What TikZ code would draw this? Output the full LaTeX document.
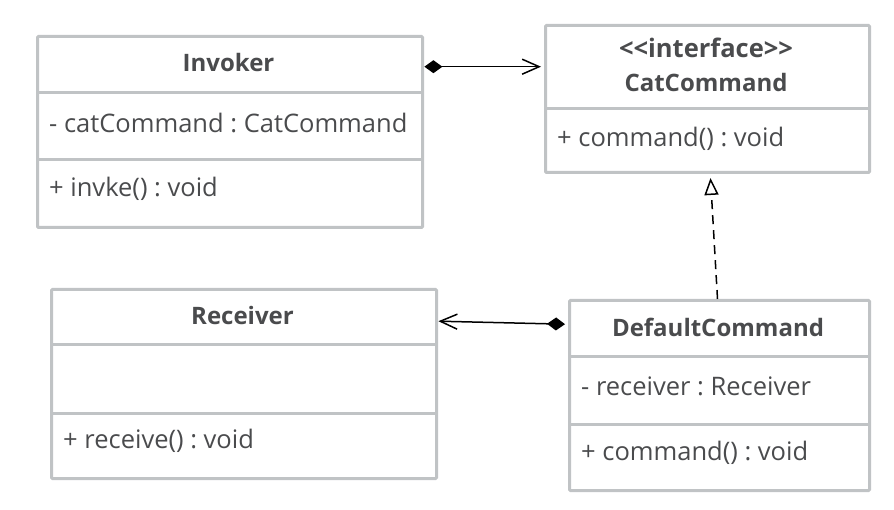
\documentclass[tikz,border=0pt]{standalone}
\usepackage{fontspec}
\setmainfont{Open Sans}
\usetikzlibrary{arrows.meta,calc}
\definecolor{boxline}{HTML}{C0C3C5}
\definecolor{txt}{HTML}{4A4B4D}
\tikzset{
  umlbox/.style={draw=boxline, line width=3pt, rounded corners=1pt, inner sep=0pt, anchor=north west},
  sect/.style={inner sep=0pt, anchor=north west},
  divider/.style={draw=boxline, line width=3pt},
  title/.style={text=txt, font=\fontsize{24}{28}\selectfont\bfseries, inner sep=0pt},
  member/.style={text=txt, font=\fontsize{25.5}{30}\selectfont, inner sep=0pt, anchor=west},
  conn/.style={line width=1.5pt, black},
  compo/.style={conn, {Diamond[length=18pt,width=13pt]}-{Straight Barb[length=17pt,width=15pt,line width=1.5pt]}},
  realize/.style={conn, dash pattern=on 9pt off 6pt, -{Triangle[open,length=17pt,width=14pt,line width=1.5pt]}}
}
\begin{document}
\frenchspacing
\begin{tikzpicture}[x=1pt,y=-1pt]
\useasboundingbox (0,0) rectangle (894,510);

% Invoker
\node[umlbox, minimum width=385pt, minimum height=191pt] (inv) at (36,35) {};
\node[sect, minimum width=385pt, minimum height=58pt] (invhead) at (36,35) {};
\draw[divider] (36,93) -- (421,93);
\draw[divider] (36,160) -- (421,160);
\node[title] (invT) at (228.5,63) {Invoker};
\node[member] (invA) at (49,123) {- catCommand : CatCommand};
\node[member] (invM) at (49,189) {+ invke() : void};

% CatCommand
\node[umlbox, minimum width=324pt, minimum height=147pt] (cat) at (544,24) {};
\node[sect, minimum width=324pt, minimum height=85pt] (cathead) at (544,24) {};
\draw[divider] (544,109) -- (868,109);
\node[title, font=\fontsize{25.5}{30}\selectfont\bfseries] (catS) at (706,48) {{<}{<}interface{>}{>}};
\node[title] (catT) at (706,83) {CatCommand};
\node[member] (catM) at (557,139) {+ command() : void};

% Receiver
\node[umlbox, minimum width=385pt, minimum height=189pt] (rec) at (50,288) {};
\node[sect, minimum width=385pt, minimum height=57pt] (rechead) at (50,288) {};
\draw[divider] (50,345) -- (435,345);
\draw[divider] (50,413) -- (435,413);
\node[title] (recT) at (242.5,316) {Receiver};
\node[member] (recM) at (63,441) {+ receive() : void};

% DefaultCommand
\node[umlbox, minimum width=300pt, minimum height=190pt] (def) at (568,299) {};
\node[sect, minimum width=300pt, minimum height=58pt] (defhead) at (568,299) {};
\draw[divider] (568,357) -- (868,357);
\draw[divider] (568,424) -- (868,424);
\node[title] (defT) at (718,327) {DefaultCommand};
\node[member] (defA) at (581,386) {- receiver : Receiver};
\node[member] (defM) at (581,453) {+ command() : void};

% connectors
\draw[compo] ($(invhead.east |- cathead.west)+(3,0)$) -- ($(cathead.west)+(-3,0)$);
\draw[compo] ($(defhead.west)+(-3,-4)$) -- ($(rechead.east)+(3,4.5)$);
\draw[realize] ($(def.north)+(-2,0)$) -- ($(cat.south)+(3,4)$);
\end{tikzpicture}
\end{document}
